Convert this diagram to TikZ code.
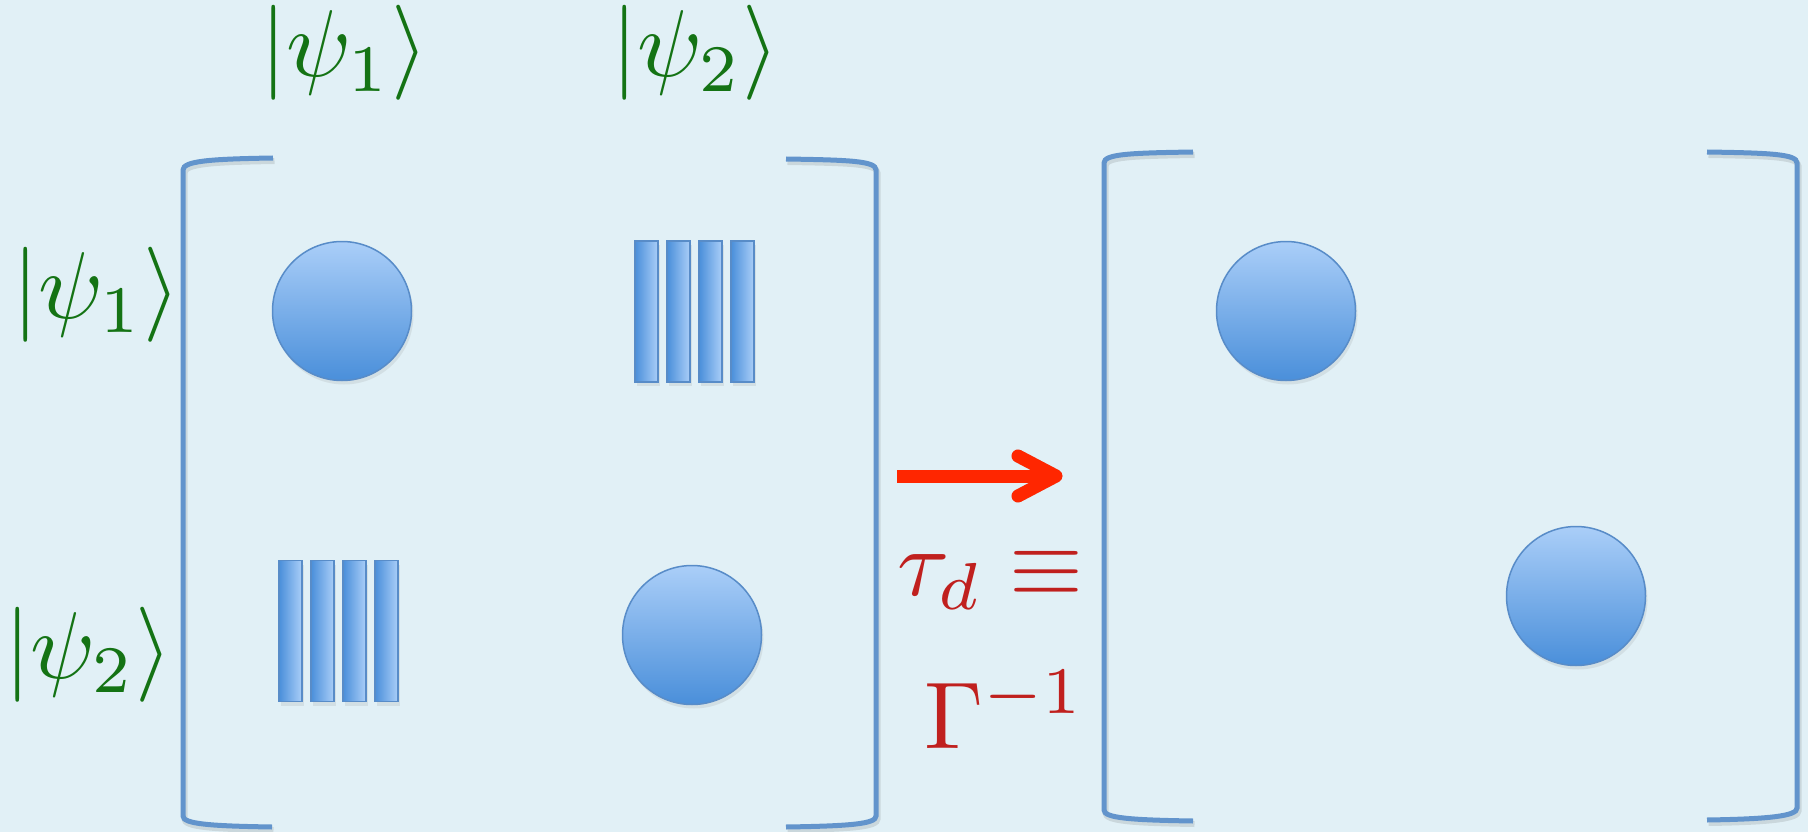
\documentclass[tikz,border=0pt]{standalone}
\usepackage{graphicx}
\usetikzlibrary{shadows}
\definecolor{bg}{RGB}{225,240,246}
\definecolor{brk}{RGB}{98,148,204}
\definecolor{ketgreen}{RGB}{20,115,20}
\definecolor{eqred}{RGB}{192,32,30}
\definecolor{arrred}{RGB}{255,38,0}
\definecolor{blight}{RGB}{170,206,248}
\definecolor{bdark}{RGB}{74,143,218}
\definecolor{bedge}{RGB}{88,140,200}
\begin{document}
\begin{tikzpicture}[x=1pt,y=-1pt,
  ball/.style={circle, minimum size=139pt, inner sep=0pt, draw=bedge, line width=1.5pt,
    top color=blight, bottom color=bdark,
    drop shadow={shadow xshift=2pt, shadow yshift=-4pt, opacity=0.15}},
  bar/.style={rectangle, minimum width=23pt, minimum height=141pt, inner sep=0pt, draw=bedge,
    line width=1.5pt, left color=bdark, right color=blight,
    drop shadow={shadow xshift=2pt, shadow yshift=-4pt, opacity=0.15}},
  bracket/.style={draw=brk, line width=5pt},
  bshadow/.style={draw=black, opacity=0.10, line width=6pt},
  ket/.style={text=ketgreen, anchor=base west, inner sep=0pt},
  eqtext/.style={text=eqred, anchor=base west, inner sep=0pt},
  redline/.style={draw=arrred, line width=13pt}]
\fill[bg] (0,0) rectangle (1808,832);
\useasboundingbox (0,0) rectangle (1808,832);

% bracket shadows
\begin{scope}[shift={(1.5,3)}]
\draw[bshadow] (273,158) .. controls (210,159) and (183,161) .. (183,170) -- (183,816) .. controls (183,824) and (210,826) .. (272,827);
\draw[bshadow] (786,159) .. controls (850,160) and (876,161) .. (876,170) -- (876,816) .. controls (876,824) and (850,826) .. (786,827);
\draw[bshadow] (1193,152) .. controls (1130,153) and (1104,154) .. (1104,163) -- (1104,810) .. controls (1104,818) and (1130,820) .. (1193,821);
\draw[bshadow] (1707,152) .. controls (1770,153) and (1797,154) .. (1797,163) -- (1797,808) .. controls (1797,816) and (1770,819) .. (1707,820);
\end{scope}
% brackets
\draw[bracket] (273,158) .. controls (210,159) and (183,161) .. (183,170) -- (183,816) .. controls (183,824) and (210,826) .. (272,827);
\draw[bracket] (786,159) .. controls (850,160) and (876,161) .. (876,170) -- (876,816) .. controls (876,824) and (850,826) .. (786,827);
\draw[bracket] (1193,152) .. controls (1130,153) and (1104,154) .. (1104,163) -- (1104,810) .. controls (1104,818) and (1130,820) .. (1193,821);
\draw[bracket] (1707,152) .. controls (1770,153) and (1797,154) .. (1797,163) -- (1797,808) .. controls (1797,816) and (1770,819) .. (1707,820);

% first matrix
\node[ball] (a11) at (342,311) {};
\node[ball] (a22) at (692,635) {};
\node[bar] (p1) at (646.5,311.5) {};
\node[bar] (p2) at (678.5,311.5) {};
\node[bar] (p3) at (710.5,311.5) {};
\node[bar] (p4) at (742.5,311.5) {};
\node[bar] (q1) at (290.5,631) {};
\node[bar] (q2) at (322.5,631) {};
\node[bar] (q3) at (354.5,631) {};
\node[bar] (q4) at (386.5,631) {};

% second matrix
\node[ball] (b11) at (1286,311) {};
\node[ball] (b22) at (1576,596) {};

% kets
\node[ket] (t1) at (260,77) {\scalebox{9.5}{$|\psi_1\rangle$}};
\node[ket] (t2) at (611,77) {\scalebox{9.5}{$|\psi_2\rangle$}};
\node[ket] (l1) at (12,318) {\scalebox{9.5}{$|\psi_1\rangle$}};
\node[ket] (l2) at (4,678) {\scalebox{9.5}{$|\psi_2\rangle$}};

% arrow
\coordinate (as) at (897,476);
\coordinate (ae) at (1050,476);
\coordinate (au) at (1018,456);
\coordinate (at) at (1056,476);
\coordinate (ad) at (1018,496);
\draw[redline, draw=black, opacity=0.12, shift={(2,4)}] (as) -- (ae);
\draw[redline, draw=black, opacity=0.12, shift={(2,4)}, line cap=round, line join=round] (au) -- (at) -- (ad);
\draw[redline] (as) -- (ae);
\draw[redline, line cap=round, line join=round] (au) -- (at) -- (ad);

% equation
\node[eqtext] (tau) at (897,595) {\scalebox{9.5}{$\tau_d\equiv$}};
\node[eqtext] (gam) at (924,748) {\scalebox{9.5}{$\Gamma^{-1}$}};
\end{tikzpicture}
\end{document}
